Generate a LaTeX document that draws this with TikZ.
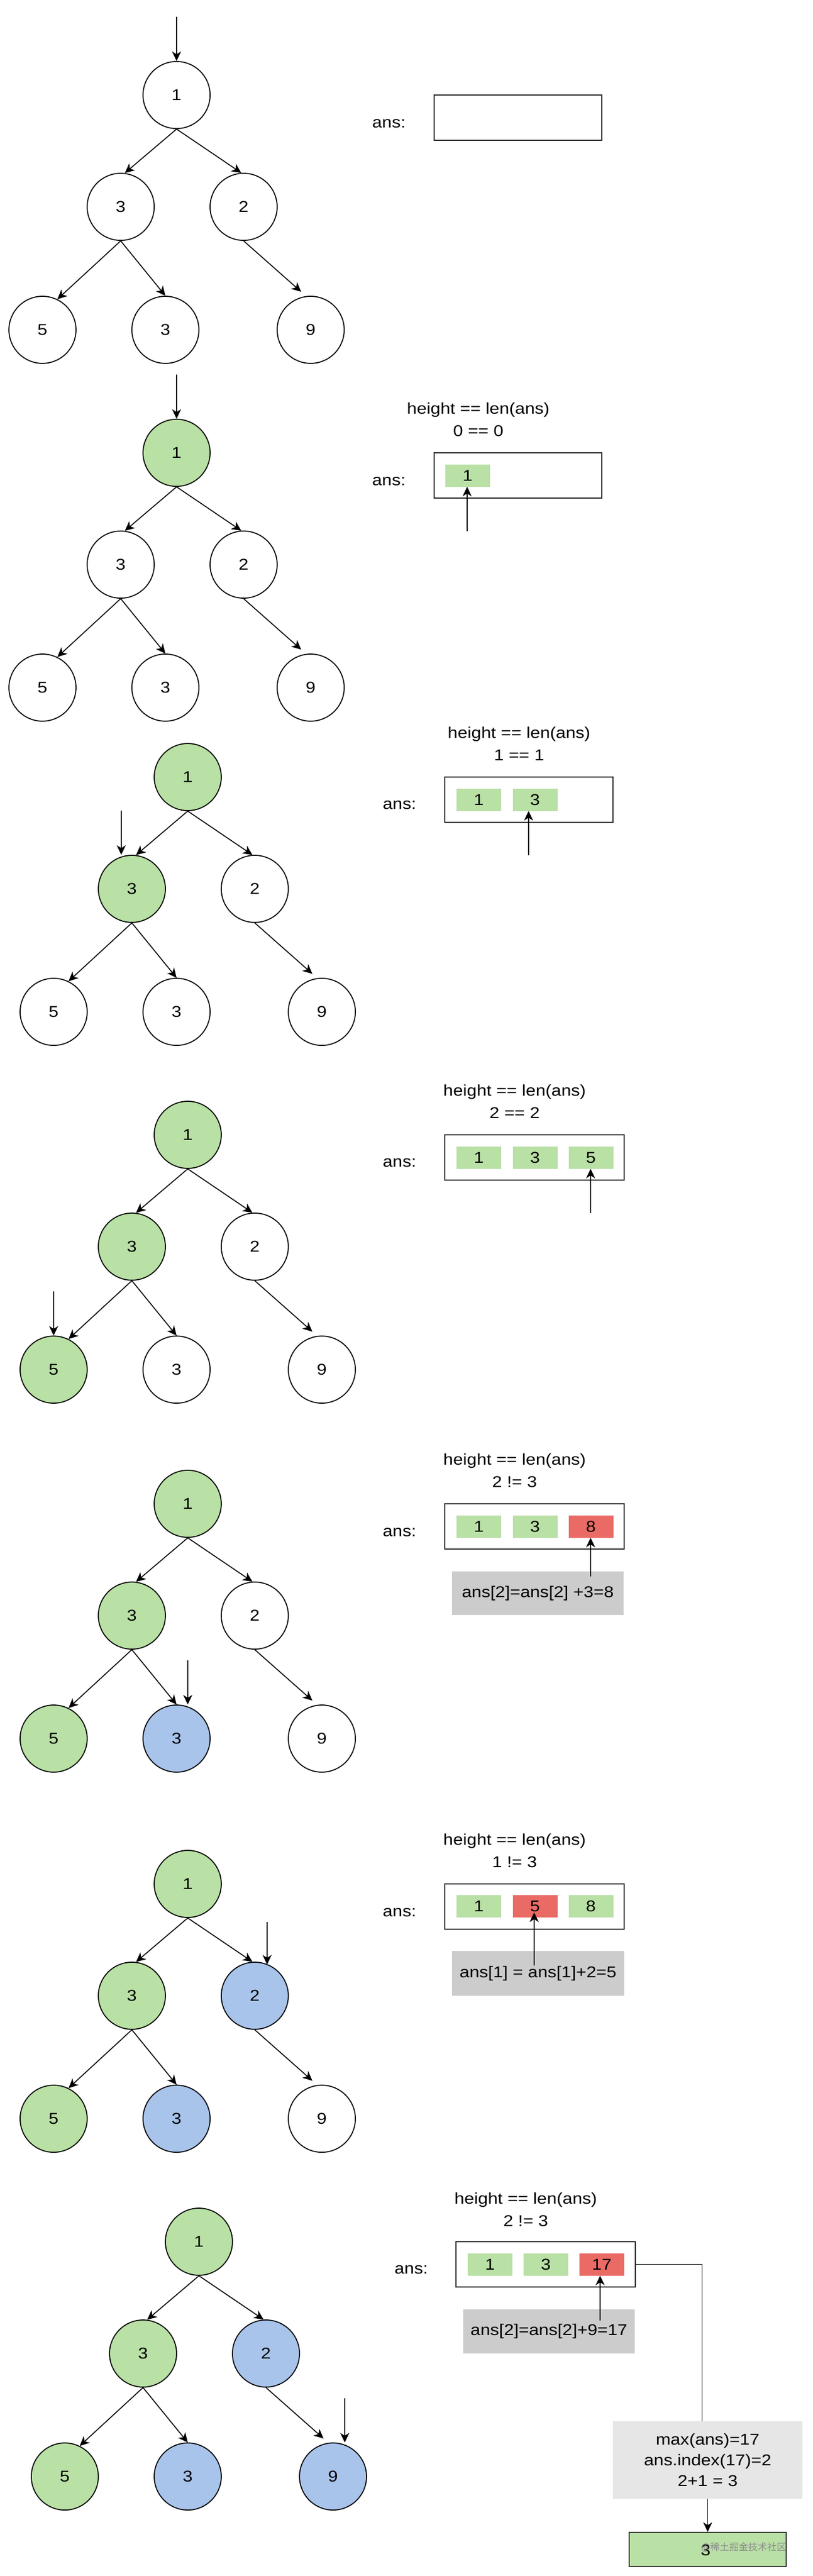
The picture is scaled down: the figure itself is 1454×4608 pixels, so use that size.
\documentclass[tikz,border=0pt]{standalone}
\usepackage{fontspec}
\setmainfont{Liberation Sans}[FakeStretch=1.13]
\newfontfamily\cjkwm{Noto Sans CJK SC}
\usetikzlibrary{arrows.meta}
\definecolor{tgreen}{HTML}{B9E0A5}
\definecolor{tblue}{HTML}{A9C4EB}
\definecolor{tred}{HTML}{EA6B66}
\definecolor{tgray}{HTML}{CCCCCC}
\definecolor{tlgray}{HTML}{E6E6E6}
\tikzset{
 tn/.style={circle, draw=black, line width=1.8pt, minimum size=120pt, inner sep=0pt},
 edge/.style={line width=1.7pt, -{Stealth[length=17pt,width=16pt,inset=5pt]}},
 plainline/.style={line width=1.7pt},
 abox/.style={draw=black!85, line width=2pt, minimum height=81pt, inner sep=0pt},
 cellg/.style={fill=tgreen, minimum width=80pt, minimum height=40pt, inner sep=0pt},
 cellr/.style={fill=tred, minimum width=80pt, minimum height=40pt, inner sep=0pt},
 lbl/.style={inner sep=0pt},
 cond/.style={inner sep=0pt, align=center, font=\fontsize{28}{40}\selectfont},
 note/.style={fill=tgray, minimum width=308pt, minimum height=79pt, inner sep=0pt},
 maxbox/.style={fill=tlgray, minimum width=339pt, minimum height=139pt, inner sep=0pt, align=center, font=\fontsize{28}{37}\selectfont},
 resbox/.style={fill=tgreen, draw=black!80, line width=2pt, minimum width=281pt, minimum height=61pt, inner sep=0pt},
 wm/.style={inner sep=0pt, text=black!45, font=\cjkwm\fontsize{17}{17}\selectfont},
}
\newcommand\mytree[9]{%
 \node[tn,fill=#4] (r#1) at (#2,#3) {1};
 \node[tn,fill=#5] (a#1) at ([shift={(-100,200)}]r#1.center) {3};
 \node[tn,fill=#6] (b#1) at ([shift={(120,200)}]r#1.center) {2};
 \node[tn,fill=#7] (c#1) at ([shift={(-240,420)}]r#1.center) {5};
 \node[tn,fill=#8] (d#1) at ([shift={(-20,420)}]r#1.center) {3};
 \node[tn,fill=#9] (e#1) at ([shift={(240,420)}]r#1.center) {9};
 \draw[edge] (r#1.south) -- (a#1.83);
 \draw[edge] (r#1.south) -- (b#1.94);
 \draw[edge] (a#1.south) -- (c#1.64);
 \draw[edge] (a#1.south) -- (d#1.90);
 \draw[edge] (b#1.south) -- ([shift={(-17,-68)}]e#1.center);
}
\begin{document}
\begin{tikzpicture}[x=1pt,y=-1pt,font=\fontsize{28}{34}\selectfont]
\useasboundingbox (0,0) rectangle (1454,4608);
\fill[white] (0,0) rectangle (1454,4608);

% ---------- panel 1
\mytree{A}{316}{170}{white}{white}{white}{white}{white}{white}
\coordinate (pA) at (316,30);
\draw[edge] (pA) -- (rA.north);
\node[lbl] (ansA) at (696,221) {ans:};
\node[abox, minimum width=300pt] (boxA) at (927,210.5) {};

% ---------- panel 2
\mytree{B}{316}{810}{tgreen}{white}{white}{white}{white}{white}
\coordinate (pB) at (316,670);
\draw[edge] (pB) -- (rB.north);
\node[cond] (cB) at (856,750) {height == len(ans)\\0 == 0};
\node[lbl] (ansB) at (696,861) {ans:};
\node[abox, minimum width=300pt] (boxB) at (927,850.5) {};
\node[cellg] (cB1) at (837,850.5) {1};
\coordinate (qB) at (836,950);
\draw[edge] (qB) -- (qB |- cB1.south);

% ---------- panel 3
\mytree{C}{336}{1390}{tgreen}{tgreen}{white}{white}{white}{white}
\coordinate (pC) at (217,1450);
\draw[edge] (pC) -- (pC |- aC.north);
\node[cond] (cC) at (929,1330) {height == len(ans)\\1 == 1};
\node[lbl] (ansC) at (715,1440) {ans:};
\node[abox, minimum width=301pt] (boxC) at (946.5,1430) {};
\node[cellg] (cC1) at (857,1430.5) {1};
\node[cellg] (cC2) at (957.5,1430.5) {3};
\coordinate (qC) at (946,1530);
\draw[edge] (qC) -- (qC |- cC2.south);

% ---------- panel 4
\mytree{D}{336}{2030}{tgreen}{tgreen}{white}{tgreen}{white}{white}
\coordinate (pD) at (96,2310);
\draw[edge] (pD) -- (cD.north);
\node[cond] (cD) at (921,1970) {height == len(ans)\\2 == 2};
\node[lbl] (ansD) at (715,2080) {ans:};
\node[abox, minimum width=321pt] (boxD) at (956.5,2070.5) {};
\node[cellg] (cD1) at (857,2070.5) {1};
\node[cellg] (cD2) at (957.5,2070.5) {3};
\node[cellg] (cD3) at (1057.5,2070.5) {5};
\coordinate (qD) at (1057,2170);
\draw[edge] (qD) -- (qD |- cD3.south);

% ---------- panel 5
\mytree{E}{336}{2690}{tgreen}{tgreen}{white}{tgreen}{tblue}{white}
\coordinate (pE) at (336,2970);
\draw[edge] (pE) -- (pE |- dE.north);
\node[cond] (cE) at (921,2630) {height == len(ans)\\2 != 3};
\node[lbl] (ansE) at (715,2741) {ans:};
\node[abox, minimum width=321pt] (boxE) at (956.5,2730) {};
\node[cellg] (cE1) at (857,2730.5) {1};
\node[cellg] (cE2) at (957.5,2730.5) {3};
\node[cellr] (cE3) at (1057.5,2730.5) {8};
\node[note, minimum width=307pt, minimum height=78pt] (nE) at (962.5,2850) {ans[2]=ans[2] +3=8};
\coordinate (qE) at (1057,2820);
\draw[edge] (qE) -- (qE |- cE3.south);

% ---------- panel 6
\mytree{F}{336}{3370}{tgreen}{tgreen}{tblue}{tgreen}{tblue}{white}
\coordinate (pF) at (478,3438);
\draw[edge] (pF) -- ([yshift=-5pt]pF |- bF.north);
\node[cond] (cF) at (921,3310) {height == len(ans)\\1 != 3};
\node[lbl] (ansF) at (715,3421) {ans:};
\node[abox, minimum width=321pt] (boxF) at (956.5,3410.5) {};
\node[cellg] (cF1) at (857,3410) {1};
\node[cellr] (cF2) at (957.5,3410) {5};
\node[cellg] (cF3) at (1057.5,3410) {8};
\node[note, minimum width=308pt, minimum height=80pt] (nF) at (963,3530) {ans[1] = ans[1]+2=5};
\coordinate (qF) at (956,3516);
\coordinate (tF) at (956,3421);
\draw[edge] (qF) -- (tF);

% ---------- panel 7
\mytree{G}{356}{4010}{tgreen}{tgreen}{tblue}{tgreen}{tblue}{tblue}
\coordinate (pG) at (617,4290);
\draw[edge] (pG) -- (pG |- eG.north);
\node[cond] (cG) at (941,3952) {height == len(ans)\\2 != 3};
\node[lbl] (ansG) at (736,4060) {ans:};
\node[abox, minimum width=321pt] (boxG) at (976.5,4050.5) {};
\node[cellg] (cG1) at (877,4050.5) {1};
\node[cellg] (cG2) at (977,4050.5) {3};
\node[cellr] (cG3) at (1077,4050.5) {17};
\node[note, minimum width=307pt, minimum height=79pt] (nG) at (982.5,4170.5) {ans[2]=ans[2]+9=17};
\coordinate (qG) at (1074,4151);
\draw[edge] (qG) -- (qG |- cG3.south);
\node[maxbox] (mx) at (1266.5,4400.5) {max(ans)=17\\ans.index(17)=2\\2+1 = 3};
\draw[plainline] (boxG.east) -| ([xshift=-10pt]mx.north);
\node[resbox] (res) at (1266.5,4560.5) {};
\node[lbl] (resT) at (1263,4562) {3};
\node[wm] (wmark) at (1331,4557) {@稀土掘金技术社区};
\draw[edge] (mx.south) -- (res.north);
\end{tikzpicture}
\end{document}
